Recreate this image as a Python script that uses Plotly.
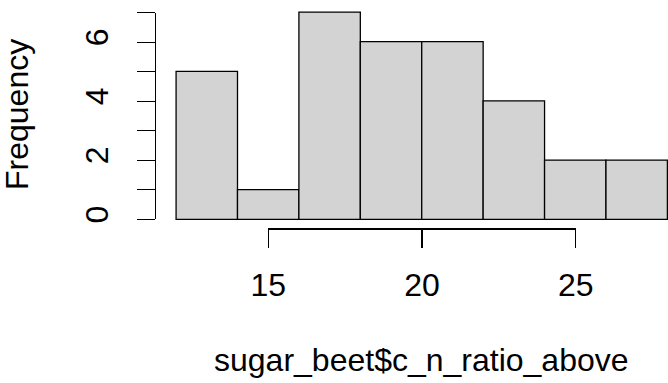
import plotly.graph_objects as go

# Histogram data
bin_edges = [12, 14, 16, 18, 20, 22, 24, 26, 28]
counts = [5, 1, 7, 6, 6, 4, 2, 2]
x_tick_vals = [15, 20, 25]
x_tick_text = ["15", "20", "25"]
y_tick_vals = [0, 1, 2, 3, 4, 5, 6, 7]
y_tick_text = ["0", "", "2", "", "4", "", "6", ""]
x_title = "sugar_beet$c_n_ratio_above"
y_title = "Frequency"

W, H = 668, 383
FONT = "Liberation Sans, Arial, sans-serif"
FS = 32
LW = 1.3

mids = [(a + b) / 2 for a, b in zip(bin_edges[:-1], bin_edges[1:])]
widths = [b - a for a, b in zip(bin_edges[:-1], bin_edges[1:])]

def px_x(p):
    return p / W

def px_y(p):
    return 1 - p / H

fig = go.Figure()
fig.add_trace(go.Bar(
    x=mids, y=counts, width=widths,
    marker=dict(color="#D3D3D3", line=dict(color="black", width=LW)),
    showlegend=False, hoverinfo="skip",
))
# empty trace so the decorative axes subplot exists
fig.add_trace(go.Scatter(x=[], y=[], xaxis="x2", yaxis="y2", showlegend=False,
                         hoverinfo="skip"))

fig.update_layout(
    template="none",
    width=W, height=H,
    margin=dict(l=0, r=0, t=0, b=0, pad=0, autoexpand=False),
    paper_bgcolor="white", plot_bgcolor="rgba(0,0,0,0)",
    font=dict(family=FONT, size=FS, color="black"),
    bargap=0,
    xaxis=dict(domain=[px_x(156), 1], range=[11.346, 28.02], visible=False,
               showgrid=False, zeroline=False, automargin=False),
    yaxis=dict(domain=[px_y(227.6), px_y(3.8)], range=[-0.28, 7.28], visible=False,
               showgrid=False, zeroline=False, automargin=False),
    xaxis2=dict(domain=[px_x(268.3), px_x(575.7)], range=[15, 25],
                anchor="free", position=px_y(228.3), automargin=False,
                showline=True, linecolor="black", linewidth=LW,
                ticks="outside", ticklen=18, tickwidth=LW, tickcolor="black",
                tickvals=x_tick_vals, ticktext=x_tick_text,
                ticklabelstandoff=10,
                showgrid=False, zeroline=False,
                tickfont=dict(family=FONT, size=FS, color="black")),
    yaxis2=dict(domain=[px_y(219.3), px_y(12.7)], range=[0, 7],
                anchor="free", position=px_x(155), automargin=False,
                showline=True, linecolor="black", linewidth=LW,
                ticks="outside", ticklen=18, tickwidth=LW, tickcolor="black",
                tickvals=y_tick_vals, ticktext=y_tick_text, tickangle=-90,
                ticklabelstandoff=16,
                showgrid=False, zeroline=False,
                tickfont=dict(family=FONT, size=FS, color="black")),
    annotations=[
        dict(text=y_title, textangle=-90, xref="paper", yref="paper",
             x=px_x(17), y=px_y(115), xanchor="center", yanchor="middle",
             showarrow=False, font=dict(family=FONT, size=FS, color="black")),
        dict(text=x_title, xref="paper", yref="paper",
             x=px_x(421), y=px_y(360), xanchor="center", yanchor="middle",
             showarrow=False, font=dict(family=FONT, size=FS, color="black")),
    ],
)

fig.write_html("out.html",
               config={"displayModeBar": False, "staticPlot": True},
               post_script="document.body.style.margin='0';"
                           "document.body.style.overflow='hidden';")
